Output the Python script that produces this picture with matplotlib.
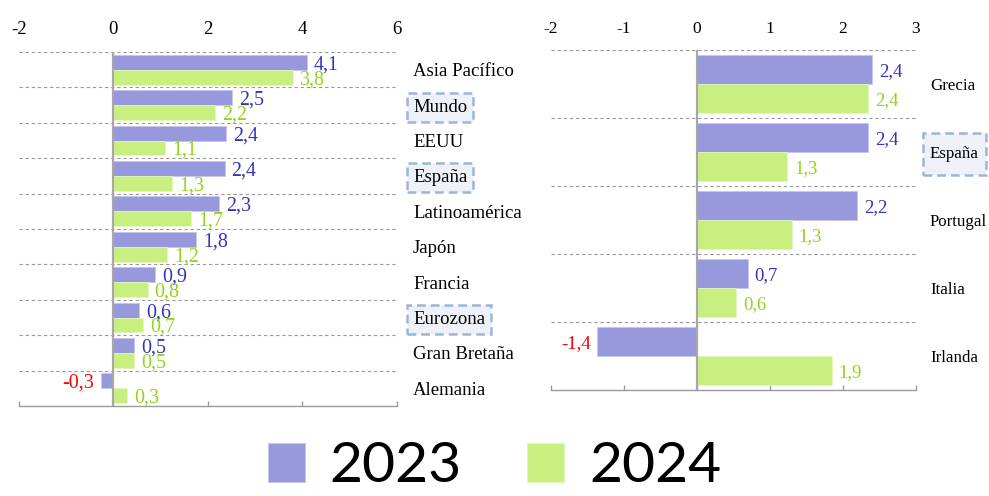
import matplotlib
matplotlib.use("Agg")
import matplotlib.pyplot as plt
from matplotlib.patches import Patch, Rectangle
import numpy as np

# ---------------- data ----------------
left_cats = ["Asia Pacífico", "Mundo", "EEUU", "España", "Latinoamérica",
             "Japón", "Francia", "Eurozona", "Gran Bretaña", "Alemania"]
left_2023 = [4.1, 2.51, 2.39, 2.36, 2.25, 1.76, 0.89, 0.55, 0.44, -0.25]
left_2024 = [3.8, 2.15, 1.1, 1.25, 1.65, 1.15, 0.73, 0.64, 0.44, 0.3]
left_lab_2023 = ["4,1", "2,5", "2,4", "2,4", "2,3", "1,8", "0,9", "0,6", "0,5", "-0,3"]
left_lab_2024 = ["3,8", "2,2", "1,1", "1,3", "1,7", "1,2", "0,8", "0,7", "0,5", "0,3"]
left_boxed = ["Mundo", "España", "Eurozona"]
left_ticks = [-2, 0, 2, 4, 6]

right_cats = ["Grecia", "España", "Portugal", "Italia", "Irlanda"]
right_2023 = [2.4, 2.35, 2.2, 0.7, -1.36]
right_2024 = [2.35, 1.24, 1.3, 0.54, 1.85]
right_lab_2023 = ["2,4", "2,4", "2,2", "0,7", "-1,4"]
right_lab_2024 = ["2,4", "1,3", "1,3", "0,6", "1,9"]
right_boxed = ["España"]
right_ticks = [-2, -1, 0, 1, 2, 3]

series = ["2023", "2024"]

# ---------------- style ----------------
C23 = "#9898dc"
C24 = "#c9ef80"
T23 = "#3434b8"
T24 = "#8fd614"
TNEG = "#ff0000"
GRID = "#9a9a9a"
BOX_EDGE = "#9cb6da"
BOX_FILL = "#eef2f8"

plt.rcParams["font.family"] = ["Liberation Serif", "DejaVu Serif"]
plt.rcParams["axes.unicode_minus"] = False

DPI = 100
fig = plt.figure(figsize=(9.89, 4.96), dpi=DPI)
W, H = 989, 496

def px_axes(x0, y0, x1, y1):
    return fig.add_axes([x0 / W, 1 - y1 / H, (x1 - x0) / W, (y1 - y0) / H])

axL = px_axes(18.6, 52, 396.6, 406)
axR = px_axes(550.7, 50, 915.7, 390)

def panel(ax, cats, v1, v2, l1, l2, ticks, fs_tick, fs_cat, fs_val, cat_off_px, tick_pad):
    n = len(cats)
    y = np.arange(n)
    h = 0.42
    ax.set_facecolor("none")
    ax.barh(y - h / 2, v1, height=h, color=C23, edgecolor="#c4c4ee", linewidth=0.6, zorder=2)
    ax.barh(y + h / 2, v2, height=h, color=C24, edgecolor="#e2f7bd", linewidth=0.6, zorder=2)
    ax.set_ylim(n - 0.5, -0.5)
    ax.set_xlim(ticks[0], ticks[-1])
    ax.set_xticks(ticks)
    ax.set_xticklabels([str(t) for t in ticks])
    ax.set_yticks([])
    ax.hlines(np.arange(n) - 0.5, ticks[0], ticks[-1], colors=GRID,
              linestyles=(0, (3, 2.5)), linewidth=0.8, zorder=1)
    ax.axvline(0, color="#a8a8a8", lw=1.6, zorder=3)
    for s in ["top", "left", "right"]:
        ax.spines[s].set_visible(False)
    ax.spines["bottom"].set_color(GRID)
    ax.spines["bottom"].set_linewidth(1.0)
    ax.tick_params(axis="x", direction="in", length=3.6, width=1.0, color=GRID,
                   bottom=True, top=False, labelbottom=False, labeltop=True,
                   labelsize=fs_tick, pad=tick_pad)
    off = 5.0
    for yy, v, lab in zip(y - h / 2, v1, l1):
        ax.annotate(lab, xy=(v, yy), xytext=(off if v >= 0 else -off, 0),
                    textcoords="offset points", ha="left" if v >= 0 else "right",
                    va="center_baseline", color=T23 if v >= 0 else TNEG,
                    fontsize=fs_val, zorder=4)
    for yy, v, lab in zip(y + h / 2, v2, l2):
        ax.annotate(lab, xy=(v, yy), xytext=(off if v >= 0 else -off, 0),
                    textcoords="offset points", ha="left" if v >= 0 else "right",
                    va="center_baseline", color=T24 if v >= 0 else TNEG,
                    fontsize=fs_val, zorder=4)
    texts = {}
    for i, c in enumerate(cats):
        t = ax.annotate(c, xy=(1, i), xycoords=("axes fraction", "data"),
                        xytext=(cat_off_px * 72 / DPI, 0), textcoords="offset points",
                        ha="left", va="center_baseline", fontsize=fs_cat,
                        color="black", zorder=6, annotation_clip=False)
        texts[c] = t
    return texts

tL = panel(axL, left_cats, left_2023, left_2024, left_lab_2023, left_lab_2024,
           left_ticks, 13.5, 13.5, 14.4, 16.4, 10)
tR = panel(axR, right_cats, right_2023, right_2024, right_lab_2023, right_lab_2024,
           right_ticks, 12.5, 12.2, 13.5, 14.3, 9.4)

# legend
handles = [Patch(facecolor=C23, edgecolor="#c4c4ee", linewidth=0.6),
           Patch(facecolor=C24, edgecolor="#e2f7bd", linewidth=0.6)]
fig.legend(handles, series, loc="center", bbox_to_anchor=(0.5, 1 - 467 / H),
           ncol=2, frameon=False, prop={"family": "Lato", "size": 41},
           handlelength=0.65, handleheight=0.65, handletextpad=0.44,
           columnspacing=1.14, borderpad=0, borderaxespad=0)

# dashed boxes around highlighted labels
fig.canvas.draw()
renderer = fig.canvas.get_renderer()

def add_box(t, padx, pady):
    bb = t.get_window_extent(renderer)
    x0, y0 = bb.x0 - padx, bb.y0 - pady
    x1, y1 = bb.x1 + padx, bb.y1 + pady
    (fx0, fy0) = fig.transFigure.inverted().transform((x0, y0))
    (fx1, fy1) = fig.transFigure.inverted().transform((x1, y1))
    r = Rectangle((fx0, fy0), fx1 - fx0, fy1 - fy0, transform=fig.transFigure,
                  facecolor=BOX_FILL, edgecolor=BOX_EDGE, linewidth=1.8,
                  linestyle=(0, (3.5, 2)), zorder=-5)
    fig.add_artist(r)

for c in left_boxed:
    add_box(tL[c], 6, 6)
for c in right_boxed:
    add_box(tR[c], 7, 13)

fig.savefig("out.png", dpi=DPI)
